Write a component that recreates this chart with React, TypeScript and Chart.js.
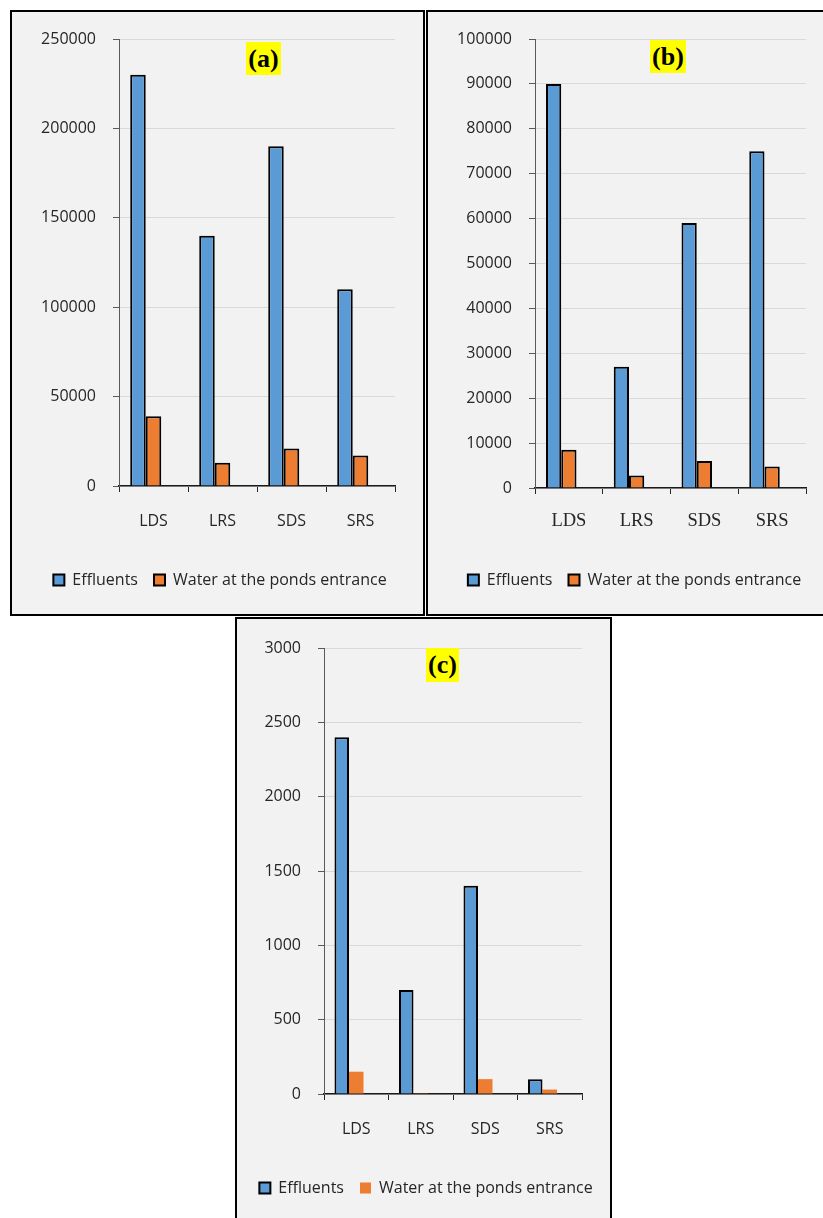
import React, { useEffect, useRef } from 'react';
import { Chart, registerables } from 'chart.js';

Chart.register(...registerables);

// ---------- data ----------
const categories = ['LDS', 'LRS', 'SDS', 'SRS'];
const seriesNames = ['Effluents', 'Water at the ponds entrance'];

const effluentsA = [230000, 140000, 190000, 110000];
const waterA = [39000, 13000, 21000, 17000];

const effluentsB = [90000, 27000, 59000, 75000];
const waterB = [8500, 2800, 6000, 4800];

const effluentsC = [2400, 700, 1400, 100];
const waterC = [150, 5, 100, 30];

// empty third slot of each category group (the source chart leaves room for it)
const emptySlot = [null, null, null, null];

const yMaxA = 250000;
const yStepA = 50000;
const yMaxB = 100000;
const yStepB = 10000;
const yMaxC = 3000;
const yStepC = 500;

const panelTags = ['(a)', '(b)', '(c)'];

// ---------- styles ----------
const BLUE = '#5B9BD5';
const ORANGE = '#ED7D31';
const SANS = '"Open Sans", "DejaVu Sans", sans-serif';
const SERIF = '"Liberation Serif", "Times New Roman", serif';
const TEXT = '#262626';

type Rect = { left: number; top: number; width: number; height: number };

interface PanelSpec {
  tag: string;
  effluents: number[];
  water: number[];
  yMax: number;
  yStep: number;
  waterBorder: number;
  xFamily: string;
  xSize: number;
  xPad: number;
  box: Rect;
  badge: Rect;
  padLeft: number;
  padTop: number;
  padBottom: number;
  rightWidth: number;
  yWidth: number;
  xHeight: number;
}

const panels: PanelSpec[] = [
  {
    tag: panelTags[0],
    effluents: effluentsA,
    water: waterA,
    yMax: yMaxA,
    yStep: yStepA,
    waterBorder: 2,
    xFamily: SANS,
    xSize: 16,
    xPad: 20,
    box: { left: 10, top: 10, width: 415, height: 606 },
    badge: { left: 246, top: 42, width: 35, height: 33 },
    padLeft: 5,
    padTop: 27,
    padBottom: 16,
    rightWidth: 28,
    yWidth: 102,
    xHeight: 70,
  },
  {
    tag: panelTags[1],
    effluents: effluentsB,
    water: waterB,
    yMax: yMaxB,
    yStep: yStepB,
    waterBorder: 2,
    xFamily: SERIF,
    xSize: 18.5,
    xPad: 16,
    box: { left: 426, top: 10, width: 399, height: 606 },
    badge: { left: 650, top: 40, width: 36, height: 33 },
    padLeft: 18,
    padTop: 27,
    padBottom: 16,
    rightWidth: 17,
    yWidth: 89,
    xHeight: 68,
  },
  {
    tag: panelTags[2],
    effluents: effluentsC,
    water: waterC,
    yMax: yMaxC,
    yStep: yStepC,
    waterBorder: 0,
    xFamily: SANS,
    xSize: 16,
    xPad: 20,
    box: { left: 235, top: 617, width: 377, height: 603 },
    badge: { left: 426, top: 648, width: 33, height: 34 },
    padLeft: 5,
    padTop: 29,
    padBottom: 12,
    rightWidth: 28,
    yWidth: 82,
    xHeight: 70,
  },
];

function buildChart(canvas: HTMLCanvasElement, p: PanelSpec) {
  return new Chart(canvas, {
    type: 'bar',
    data: {
      labels: categories,
      datasets: [
        {
          label: seriesNames[0],
          data: p.effluents,
          backgroundColor: BLUE,
          borderColor: '#000000',
          borderWidth: 2,
        },
        {
          label: seriesNames[1],
          data: p.water,
          backgroundColor: ORANGE,
          borderColor: '#000000',
          borderWidth: p.waterBorder,
        },
        {
          label: '',
          data: emptySlot as any,
          backgroundColor: 'rgba(0,0,0,0)',
          borderWidth: 0,
        },
      ],
    },
    options: {
      animation: false,
      responsive: true,
      maintainAspectRatio: false,
      layout: {
        padding: { left: p.padLeft, top: p.padTop, right: 0, bottom: p.padBottom },
      },
      datasets: {
        bar: { categoryPercentage: 0.675, barPercentage: 1 },
      },
      plugins: {
        title: { display: false },
        tooltip: { enabled: false },
        legend: {
          display: true,
          position: 'bottom',
          labels: {
            boxWidth: 11,
            boxHeight: 11,
            padding: 16,
            color: TEXT,
            font: { family: SANS, size: 16 },
            filter: (item: any) => item.text !== '',
          },
        },
      },
      scales: {
        x: {
          offset: true,
          grid: {
            display: true,
            offset: true,
            drawOnChartArea: false,
            drawTicks: true,
            tickLength: 6,
            tickColor: '#262626',
          },
          border: { display: true, color: '#1a1a1a', width: 1.5 },
          ticks: {
            color: TEXT,
            padding: p.xPad,
            font: { family: p.xFamily, size: p.xSize },
            maxRotation: 0,
          },
          afterFit: (scale: any) => {
            scale.height = p.xHeight;
          },
        },
        y: {
          position: 'left',
          min: 0,
          max: p.yMax,
          grid: {
            color: '#d9d9d9',
            lineWidth: 1,
            drawTicks: true,
            tickLength: 6,
            tickColor: '#595959',
          },
          border: { display: true, color: '#595959', width: 1 },
          ticks: {
            stepSize: p.yStep,
            color: TEXT,
            padding: 17,
            font: { family: SANS, size: 16 },
            callback: (v: any) => String(v),
          },
          afterFit: (scale: any) => {
            scale.width = p.yWidth;
          },
        },
        // blank right-hand margin of the plot
        yRight: {
          type: 'linear',
          position: 'right',
          display: true,
          grid: { display: false, drawTicks: false },
          border: { display: false },
          ticks: { display: false },
          afterFit: (scale: any) => {
            scale.width = p.rightWidth;
          },
        },
      },
    },
  });
}

function Panel({ spec }: { spec: PanelSpec }) {
  const ref = useRef<HTMLCanvasElement | null>(null);
  useEffect(() => {
    if (!ref.current) return;
    const chart = buildChart(ref.current, spec);
    return () => chart.destroy();
  }, [spec]);
  const b = spec.box;
  return (
    <div
      style={{
        position: 'absolute',
        left: b.left,
        top: b.top,
        width: b.width,
        height: b.height,
        boxSizing: 'border-box',
        border: '2px solid #000',
        background: '#f2f2f2',
      }}
    >
      <div style={{ position: 'relative', width: b.width - 4, height: b.height - 4 }}>
        <canvas ref={ref} />
      </div>
    </div>
  );
}

function Badge({ spec }: { spec: PanelSpec }) {
  const r = spec.badge;
  return (
    <div
      style={{
        position: 'absolute',
        left: r.left,
        top: r.top,
        width: r.width,
        height: r.height,
        background: '#ffff00',
        fontFamily: SERIF,
        fontWeight: 'bold',
        fontSize: 26,
        lineHeight: `${r.height}px`,
        textAlign: 'center',
        color: '#000',
      }}
    >
      {spec.tag}
    </div>
  );
}

export default function App() {
  return (
    <div
      style={{
        position: 'absolute',
        left: 0,
        top: 0,
        width: 823,
        height: 1218,
        overflow: 'hidden',
        background: '#ffffff',
      }}
    >
      {panels.map((p) => (
        <Panel key={p.tag} spec={p} />
      ))}
      {panels.map((p) => (
        <Badge key={'b' + p.tag} spec={p} />
      ))}
    </div>
  );
}
